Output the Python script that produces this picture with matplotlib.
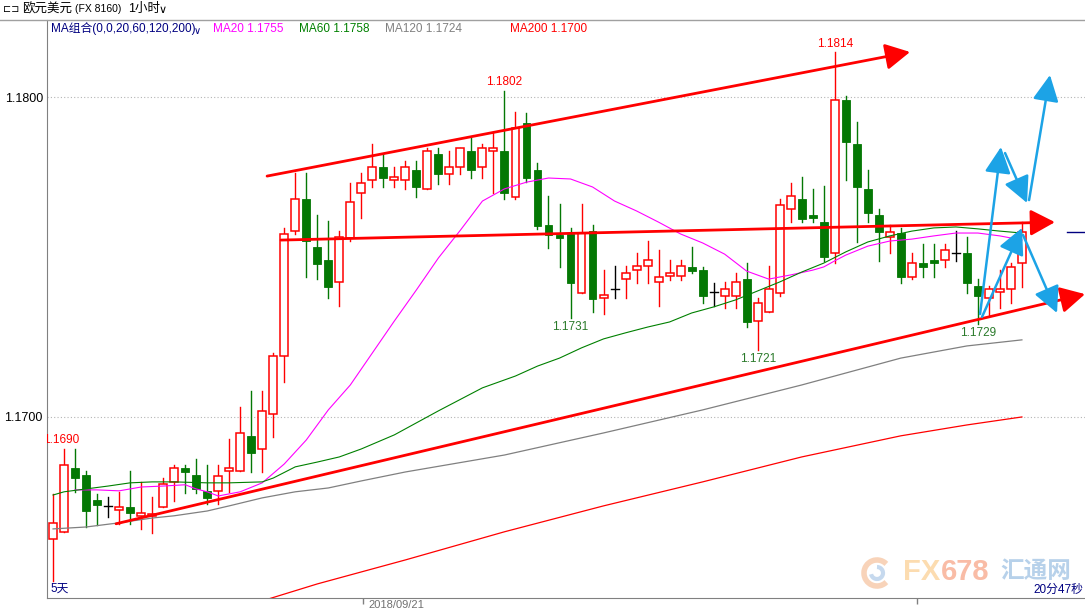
# Imports
import matplotlib
matplotlib.use('Agg')
from matplotlib import pyplot as plt
from matplotlib.patches import Rectangle, Arc

plt.rcParams['font.family'] = ['Liberation Sans', 'Noto Sans CJK SC', 'DejaVu Sans']

# Data: EUR/USD 1h candles (oldest first)
opens = [1.16619, 1.16641, 1.16841, 1.16819, 1.16741, 1.16722, 1.16709, 1.16719, 1.16691, 1.16691,
         1.16719, 1.16797, 1.16841, 1.16819, 1.16769, 1.16769, 1.16831, 1.16831, 1.16941, 1.16900,
         1.17009, 1.17191, 1.17581, 1.17681, 1.17531, 1.17491, 1.17422, 1.17559, 1.17700, 1.17741,
         1.17781, 1.17741, 1.17741, 1.17772, 1.17713, 1.17822, 1.17759, 1.17781, 1.17831, 1.17781,
         1.17831, 1.17831, 1.17688, 1.17919, 1.17772, 1.17600, 1.17569, 1.17572, 1.17388, 1.17581,
         1.17372, 1.17400, 1.17431, 1.17459, 1.17472, 1.17422, 1.17441, 1.17441, 1.17469, 1.17459,
         1.17391, 1.17378, 1.17378, 1.17431, 1.17300, 1.17328, 1.17388, 1.17650, 1.17681, 1.17631,
         1.17609, 1.17513, 1.17991, 1.17853, 1.17713, 1.17631, 1.17563, 1.17575, 1.17438, 1.17481,
         1.17491, 1.17491, 1.17513, 1.17513, 1.17409, 1.17372, 1.17391, 1.17400, 1.17481]
highs = [1.16759, 1.16900, 1.16900, 1.16831, 1.16759, 1.16750, 1.16766, 1.16831, 1.16797, 1.16750,
         1.16809, 1.16850, 1.16850, 1.16869, 1.16850, 1.16850, 1.16931, 1.17031, 1.17081, 1.17081,
         1.17200, 1.17591, 1.17763, 1.17763, 1.17631, 1.17613, 1.17581, 1.17731, 1.17763, 1.17853,
         1.17822, 1.17781, 1.17800, 1.17800, 1.17841, 1.17841, 1.17831, 1.17841, 1.17872, 1.17853,
         1.17888, 1.18020, 1.17953, 1.17950, 1.17794, 1.17691, 1.17666, 1.17591, 1.17666, 1.17600,
         1.17459, 1.17472, 1.17472, 1.17513, 1.17550, 1.17522, 1.17491, 1.17491, 1.17531, 1.17469,
         1.17419, 1.17422, 1.17450, 1.17481, 1.17372, 1.17472, 1.17681, 1.17731, 1.17750, 1.17713,
         1.17722, 1.18140, 1.18003, 1.17922, 1.17772, 1.17650, 1.17600, 1.17591, 1.17513, 1.17541,
         1.17541, 1.17541, 1.17581, 1.17563, 1.17431, 1.17409, 1.17459, 1.17481, 1.17609]
lows = [1.16488, 1.16641, 1.16766, 1.16656, 1.16663, 1.16688, 1.16666, 1.16666, 1.16650, 1.16638,
        1.16719, 1.16738, 1.16763, 1.16763, 1.16728, 1.16728, 1.16766, 1.16831, 1.16828, 1.16828,
        1.16938, 1.17109, 1.17572, 1.17438, 1.17431, 1.17372, 1.17347, 1.17550, 1.17622, 1.17719,
        1.17719, 1.17719, 1.17713, 1.17688, 1.17713, 1.17728, 1.17728, 1.17759, 1.17747, 1.17747,
        1.17700, 1.17681, 1.17681, 1.17734, 1.17588, 1.17528, 1.17469, 1.17310, 1.17388, 1.17328,
        1.17322, 1.17372, 1.17372, 1.17419, 1.17419, 1.17347, 1.17428, 1.17428, 1.17450, 1.17356,
        1.17347, 1.17341, 1.17341, 1.17281, 1.17210, 1.17328, 1.17378, 1.17609, 1.17609, 1.17609,
        1.17488, 1.17481, 1.17741, 1.17547, 1.17609, 1.17488, 1.17513, 1.17419, 1.17431, 1.17438,
        1.17438, 1.17469, 1.17488, 1.17388, 1.17290, 1.17319, 1.17341, 1.17356, 1.17406]
closes = [1.16669, 1.16850, 1.16809, 1.16706, 1.16725, 1.16722, 1.16719, 1.16700, 1.16700, 1.16697,
          1.16791, 1.16841, 1.16828, 1.16775, 1.16747, 1.16816, 1.16841, 1.16950, 1.16888, 1.17019,
          1.17191, 1.17572, 1.17681, 1.17550, 1.17478, 1.17406, 1.17563, 1.17672, 1.17731, 1.17781,
          1.17747, 1.17750, 1.17781, 1.17719, 1.17831, 1.17759, 1.17781, 1.17841, 1.17772, 1.17841,
          1.17841, 1.17700, 1.17903, 1.17747, 1.17597, 1.17569, 1.17559, 1.17419, 1.17575, 1.17369,
          1.17381, 1.17400, 1.17450, 1.17472, 1.17491, 1.17438, 1.17450, 1.17472, 1.17456, 1.17378,
          1.17391, 1.17400, 1.17422, 1.17297, 1.17356, 1.17400, 1.17663, 1.17691, 1.17619, 1.17622,
          1.17500, 1.17991, 1.17859, 1.17719, 1.17638, 1.17578, 1.17578, 1.17438, 1.17481, 1.17469,
          1.17481, 1.17522, 1.17513, 1.17419, 1.17378, 1.17400, 1.17400, 1.17469, 1.17578]

# Data: moving averages (candle index, value)
ma20_x = [2, 4, 6, 8, 10, 12, 13, 14, 15, 17, 19, 21, 23, 25, 27, 29, 31, 33, 35, 37, 39, 41, 43, 45,
          47, 49, 51, 53, 55, 57, 59, 61, 63, 65, 67, 69, 70, 71, 72, 74, 76, 78, 80, 82, 84, 86, 88]
ma20_y = [1.16772, 1.16772, 1.16769, 1.16781, 1.16784, 1.16788, 1.16775, 1.16766, 1.16753, 1.16766,
          1.16794, 1.16853, 1.16928, 1.17022, 1.17100, 1.17200, 1.17300, 1.17397, 1.17497, 1.17584,
          1.17675, 1.17713, 1.17734, 1.17747, 1.17744, 1.17719, 1.17675, 1.17644, 1.17609, 1.17572,
          1.17544, 1.17509, 1.17456, 1.17431, 1.17444, 1.17459, 1.17469, 1.17488, 1.17506, 1.17534,
          1.17550, 1.17556, 1.17566, 1.17575, 1.17575, 1.17566, 1.17553]
ma60_x = [0, 1, 3, 5, 7, 9, 11, 14, 16, 19, 20, 22, 24, 26, 28, 31, 35, 39, 42, 44, 46,
          48, 50, 52, 54, 56, 58, 60, 62, 64, 66, 68, 70, 72, 74, 76, 78, 80, 82, 84, 86, 88]
ma60_y = [1.16756, 1.16766, 1.16775, 1.16784, 1.16794, 1.16797, 1.16797, 1.16794, 1.16794, 1.16797,
          1.16809, 1.16844, 1.16859, 1.16875, 1.16900, 1.16944, 1.17019, 1.17091, 1.17128, 1.17159,
          1.17184, 1.17216, 1.17244, 1.17263, 1.17281, 1.17297, 1.17325, 1.17344, 1.17366, 1.17394,
          1.17422, 1.17453, 1.17481, 1.17516, 1.17547, 1.17566, 1.17581, 1.17591, 1.17594, 1.17588,
          1.17581, 1.17575]
ma120_x = [0, 3, 6, 9, 11, 14, 16, 19, 22, 25, 28, 32, 41, 50, 59, 68, 77, 83, 88]
ma120_y = [1.16650, 1.16656, 1.16669, 1.16684, 1.16691, 1.16706, 1.16722, 1.16747, 1.16766, 1.16778,
           1.16800, 1.16828, 1.16881, 1.16950, 1.17022, 1.17100, 1.17184, 1.17222, 1.17241]
ma200_x = [19, 24, 32, 41, 50, 59, 68, 77, 83, 88]
ma200_y = [1.16425, 1.16478, 1.16553, 1.16641, 1.16722, 1.16797, 1.16875, 1.16941, 1.16975, 1.17000]

# Data: drawn trend lines and scenario arrows ((x0, y0), (x1, y1))
red_lines = [((19.44, 1.17753), (77.84, 1.18141)),
             ((20.71, 1.17553), (91.00, 1.17609)),
             ((5.72, 1.16666), (93.73, 1.17384))]
blue_lines = [((84.20, 1.17322), (86.10, 1.17844)),
              ((86.47, 1.17825), (88.47, 1.17669)),
              ((88.65, 1.17678), (90.55, 1.18069)),
              ((84.38, 1.17313), (88.01, 1.17591)),
              ((88.10, 1.17569), (91.19, 1.17325))]

# Labels
high_marks = [1, 41, 71]
low_marks = [47, 64, 84]
yticks = [1.17, 1.18]
ytick_labels = ['1.1700', '1.1800']
day_ticks = [28.15, 78.5]
legend_items = [('MA20 1.1755', '#ff00ff', 213), ('MA60 1.1758', '#008000', 299),
                ('MA120 1.1724', '#808080', 385), ('MA200 1.1700', '#ff0000', 510)]

RED = '#ff0000'
GREEN = '#047804'
W, H = 1085, 611


def fx(px):
    return px / W


def fy(py):
    return 1 - py / H


# Dimensions
fig = plt.figure(figsize=(W / 100, H / 100), dpi=100)
ax = fig.add_axes([fx(47), fy(598), fx(1085 - 47), (598 - 20) / H])
ax.set_xlim(-0.55, 93.73)
ax.set_ylim(1.16434, 1.18241)

# Candles
bw = 0.72
for i, (o, h, l, c) in enumerate(zip(opens, highs, lows, closes)):
    if c > o:
        ax.plot([i, i], [l, h], color=RED, lw=1.0, zorder=2)
        ax.add_patch(Rectangle((i - bw / 2, o), bw, c - o, facecolor='white',
                               edgecolor=RED, lw=1.1, zorder=2.5))
    elif c < o:
        ax.plot([i, i], [l, h], color=GREEN, lw=1.0, zorder=2)
        ax.add_patch(Rectangle((i - bw / 2, c), bw, o - c, facecolor=GREEN,
                               edgecolor=GREEN, lw=0.6, zorder=2.5))
    else:
        ax.plot([i, i], [l, h], color='black', lw=1.0, zorder=2)
        ax.plot([i - bw / 2, i + bw / 2], [o, o], color='black', lw=1.0, zorder=2.5)

# Moving averages
ax.plot(ma20_x, ma20_y, color='#ff00ff', lw=0.8, zorder=3)
ax.plot(ma60_x, ma60_y, color='#008000', lw=0.8, zorder=3)
ax.plot(ma120_x, ma120_y, color='#808080', lw=0.9, zorder=3)
ax.plot(ma200_x, ma200_y, color='#ff0000', lw=0.9, zorder=3)

# Trend lines
for (x0, y0), (x1, y1) in red_lines:
    ax.annotate('', xy=(x1, y1), xytext=(x0, y0), annotation_clip=False,
                arrowprops=dict(arrowstyle='-|>,head_length=0.75,head_width=0.4', color=RED,
                                lw=2.0, shrinkA=0, shrinkB=0, mutation_scale=20), zorder=4)
for (x0, y0), (x1, y1) in blue_lines:
    ax.annotate('', xy=(x1, y1), xytext=(x0, y0), annotation_clip=False,
                arrowprops=dict(arrowstyle='-|>,head_length=0.8,head_width=0.4', color='#1ca3e6',
                                lw=1.8, shrinkA=0, shrinkB=0, mutation_scale=20), zorder=5)

# High / low marks
for i in high_marks:
    dx = -2 if i == 1 else 0
    t = ax.annotate(f'{highs[i]:.4f}', (i, highs[i]), xytext=(dx, 2), textcoords='offset points',
                    ha='center', va='bottom', fontsize=8.5, color=RED, zorder=6)
    t.set_clip_box(ax.bbox)
    t.set_clip_on(True)
for i in low_marks:
    ax.annotate(f'{lows[i]:.4f}', (i, lows[i]), xytext=(0, -2), textcoords='offset points',
                ha='center', va='top', fontsize=8.5, color='#2a7a2a', zorder=6)

# Last price marker
ax.plot([92.1, 93.73], [closes[-1], closes[-1]], color='#000080', lw=1.0, clip_on=False)

# Axes styling
for s in ['top', 'right']:
    ax.spines[s].set_visible(False)
ax.spines['left'].set_color('#808080')
ax.spines['bottom'].set_color('#808080')
ax.set_yticks(yticks)
ax.set_yticklabels(ytick_labels, fontsize=9)
ax.tick_params(axis='y', length=0, pad=3)
ax.set_xticks(day_ticks)
ax.set_xticklabels(['', ''])
ax.tick_params(axis='x', length=4.5, color='#808080', width=1)
for v in yticks:
    ax.axhline(v, color='#b4b4b4', lw=0.8, ls=(0, (1, 2)), zorder=1)

# Header
fig.add_artist(plt.Line2D([0, 1], [fy(20), fy(20)], color='#a0a0a0', lw=1))
fig.text(fx(3), fy(9), '⊏⊐', fontsize=7, va='center', family='DejaVu Sans')
fig.text(fx(22), fy(9), '欧元美元', fontsize=9, va='center')
fig.text(fx(75), fy(9), '(FX 8160)', fontsize=7.5, va='center')
fig.text(fx(128), fy(9), '1小时', fontsize=9, va='center')
fig.text(fx(159), fy(10), '∨', fontsize=8, va='center', family='DejaVu Sans')
fig.text(fx(51), fy(29), 'MA组合(0,0,20,60,120,200)', fontsize=8.5, va='center', color='#000080')
fig.text(fx(194), fy(31), '∨', fontsize=7, va='center', color='#000080', family='DejaVu Sans')
for txt, col, px in legend_items:
    fig.text(fx(px), fy(29), txt, fontsize=8.5, va='center', color=col)

# Footer
fig.text(fx(50), fy(589), '5天', fontsize=8.5, va='center', color='#000080')
fig.text(fx(1083), fy(590), '20分47秒', fontsize=8.5, va='center', ha='right', color='#000080')
fig.text(fx(368), fy(600), '2018/09/21', fontsize=8, va='top', color='#707070')

# Watermark
fig.add_artist(Arc((fx(877), fy(573)), 26 / W, 26 / H, theta1=60, theta2=300,
                   color='#f7c9a8', lw=4, alpha=0.8))
fig.add_artist(Arc((fx(877), fy(573)), 12 / W, 12 / H, theta1=200, theta2=450,
                   color='#b8d0ea', lw=3, alpha=0.8))
fig.text(fx(903), fy(572), 'FX', fontsize=21, fontweight='bold', va='center', color='#fcdcb0')
fig.text(fx(941), fy(572), '678', fontsize=21, fontweight='bold', va='center', color='#f9bca6')
fig.text(fx(1000), fy(572), '汇通网', fontsize=17, fontweight='bold', va='center', color='#b7d1ea')

# Output
fig.savefig('out.png', dpi=100)
